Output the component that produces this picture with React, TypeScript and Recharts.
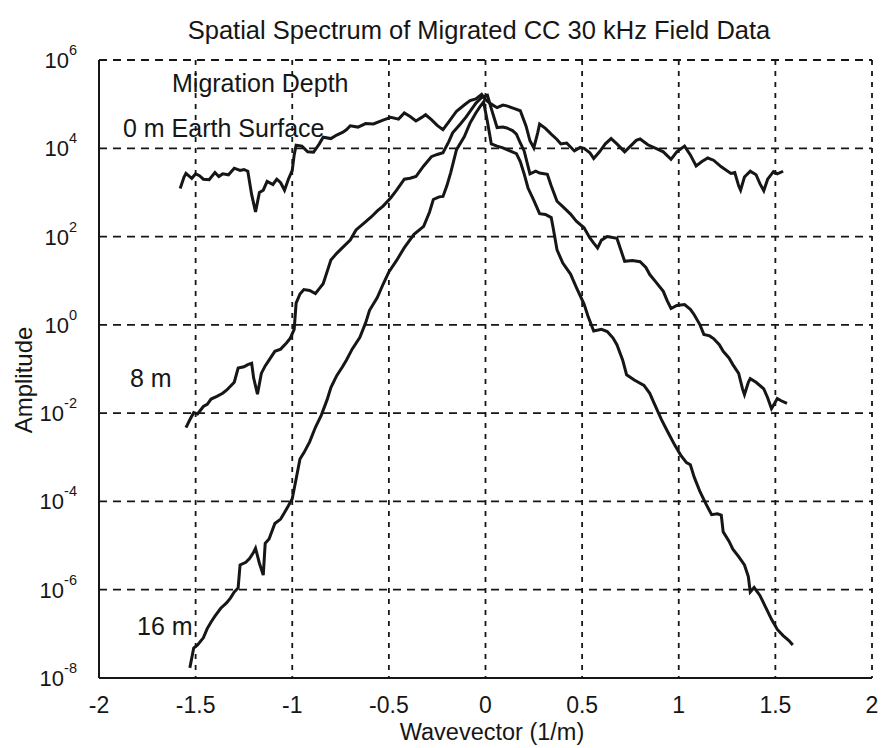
import type {ReactElement} from 'react';
import {LineChart, Line, XAxis, YAxis, CartesianGrid} from 'recharts';

// wavevector (1/m) and log10(amplitude)
const k0m = [
  -1.58, -1.56, -1.55, -1.52, -1.5, -1.48, -1.46, -1.43, -1.4, -1.38, -1.36,
  -1.33, -1.3, -1.27, -1.25, -1.23, -1.21, -1.19, -1.17, -1.15, -1.13, -1.1,
  -1.08, -1.06, -1.04, -1.02, -1.0, -0.99, -0.98, -0.95, -0.92, -0.89, -0.86,
  -0.84, -0.8, -0.77, -0.74, -0.72, -0.7, -0.66, -0.62, -0.58, -0.53, -0.49,
  -0.45, -0.42, -0.39, -0.36, -0.33, -0.31, -0.28, -0.25, -0.22, -0.19, -0.15,
  -0.11, -0.08, -0.05, -0.02, 0.0, 0.03, 0.06, 0.09, 0.11, 0.15, 0.18, 0.21,
  0.23, 0.25, 0.27, 0.28, 0.31, 0.34, 0.37, 0.39, 0.42, 0.46, 0.49, 0.51, 0.54,
  0.56, 0.59, 0.62, 0.65, 0.68, 0.72, 0.75, 0.78, 0.8, 0.84, 0.89, 0.92, 0.96,
  0.99, 1.03, 1.06, 1.09, 1.12, 1.15, 1.18, 1.22, 1.27, 1.29, 1.31, 1.32, 1.34,
  1.37, 1.4, 1.42, 1.44, 1.46, 1.49, 1.51, 1.54,
];
const exp0m = [
  3.09, 3.35, 3.43, 3.32, 3.42, 3.38, 3.3, 3.29, 3.45, 3.36, 3.42, 3.4, 3.55,
  3.5, 3.52, 3.48, 2.95, 2.56, 3.0, 3.05, 3.25, 3.18, 3.3, 3.22, 3.05, 3.3, 3.5,
  3.85, 4.07, 4.05, 3.92, 3.91, 4.1, 4.25, 4.22, 4.3, 4.36, 4.42, 4.51, 4.48,
  4.56, 4.55, 4.64, 4.7, 4.66, 4.8, 4.72, 4.62, 4.7, 4.76, 4.65, 4.52, 4.42,
  4.6, 4.84, 4.98, 5.08, 5.12, 5.22, 5.1, 5.0, 4.92, 4.98, 4.96, 4.9, 4.85, 4.5,
  4.17, 4.01, 4.35, 4.55, 4.45, 4.32, 4.2, 4.1, 4.12, 3.94, 4.02, 4.0, 3.9,
  3.77, 3.92, 4.1, 4.22, 4.1, 3.92, 4.05, 4.18, 4.21, 4.08, 3.98, 3.92, 3.75,
  3.92, 4.05, 3.85, 3.6, 3.7, 3.78, 3.73, 3.58, 3.43, 3.45, 3.15, 3.05, 3.35,
  3.48, 3.4, 3.2, 3.04, 3.3, 3.47, 3.42, 3.48,
];

const k8m = [
  -1.55, -1.53, -1.51, -1.49, -1.46, -1.44, -1.42, -1.39, -1.36, -1.34, -1.32,
  -1.3, -1.28, -1.25, -1.23, -1.21, -1.2, -1.18, -1.16, -1.14, -1.12, -1.09,
  -1.06, -1.03, -1.01, -0.99, -0.98, -0.96, -0.94, -0.91, -0.88, -0.86, -0.84,
  -0.82, -0.8, -0.77, -0.74, -0.7, -0.67, -0.63, -0.59, -0.56, -0.53, -0.49,
  -0.46, -0.42, -0.39, -0.36, -0.32, -0.28, -0.25, -0.22, -0.19, -0.17, -0.13,
  -0.1, -0.07, -0.05, -0.02, 0.01, 0.03, 0.06, 0.09, 0.11, 0.14, 0.16, 0.18,
  0.2, 0.23, 0.26, 0.28, 0.32, 0.34, 0.37, 0.4, 0.44, 0.47, 0.51, 0.54, 0.56,
  0.58, 0.6, 0.63, 0.68, 0.7, 0.72, 0.76, 0.8, 0.83, 0.85, 0.88, 0.92, 0.94,
  0.96, 0.99, 1.03, 1.06, 1.08, 1.11, 1.13, 1.16, 1.18, 1.21, 1.23, 1.26, 1.28,
  1.31, 1.33, 1.34, 1.36, 1.37, 1.4, 1.44, 1.46, 1.48, 1.51, 1.53, 1.56,
];
const exp8m = [
  -2.33, -2.15, -1.99, -2.02, -1.85, -1.8, -1.68, -1.62, -1.55, -1.48, -1.39,
  -1.3, -0.98, -0.95, -0.9, -0.87, -1.2, -1.57, -1.1, -0.93, -0.8, -0.6, -0.55,
  -0.41, -0.3, -0.1, 0.49, 0.7, 0.8, 0.78, 0.71, 0.82, 0.93, 1.2, 1.47, 1.62,
  1.75, 1.92, 2.15, 2.3, 2.45, 2.58, 2.69, 2.88, 3.05, 3.3, 3.32, 3.36, 3.6,
  3.81, 3.86, 3.9, 4.15, 4.35, 4.55, 4.71, 4.9, 5.02, 5.15, 5.2, 4.9, 4.47,
  4.48, 4.46, 4.4, 4.32, 4.12, 3.94, 3.42, 3.48, 3.44, 3.41, 3.15, 2.8, 2.68,
  2.51, 2.35, 2.2, 1.97, 1.85, 1.74, 1.92, 2.0, 1.96, 1.7, 1.44, 1.46, 1.43,
  1.3, 1.14, 0.98, 0.76, 0.55, 0.37, 0.44, 0.46, 0.35, 0.23, 0.0, -0.22, -0.25,
  -0.31, -0.45, -0.6, -0.75, -0.9, -1.1, -1.45, -1.58, -1.3, -1.22, -1.3, -1.45,
  -1.65, -1.9, -1.67, -1.72, -1.78,
];

const k16m = [
  -1.53, -1.51, -1.49, -1.46, -1.44, -1.42, -1.4, -1.37, -1.34, -1.32, -1.3,
  -1.28, -1.27, -1.24, -1.22, -1.2, -1.19, -1.17, -1.15, -1.14, -1.12, -1.09,
  -1.06, -1.04, -1.02, -1.0, -0.98, -0.96, -0.94, -0.91, -0.88, -0.85, -0.82,
  -0.8, -0.77, -0.74, -0.72, -0.69, -0.65, -0.62, -0.6, -0.56, -0.53, -0.5,
  -0.46, -0.42, -0.37, -0.32, -0.29, -0.27, -0.24, -0.22, -0.2, -0.18, -0.15,
  -0.11, -0.08, -0.05, -0.03, -0.01, 0.01, 0.03, 0.06, 0.09, 0.12, 0.16, 0.18,
  0.2, 0.22, 0.25, 0.28, 0.31, 0.34, 0.35, 0.37, 0.4, 0.44, 0.47, 0.51, 0.53,
  0.56, 0.6, 0.63, 0.66, 0.68, 0.71, 0.73, 0.77, 0.82, 0.85, 0.87, 0.91, 0.94,
  0.98, 1.01, 1.04, 1.06, 1.08, 1.11, 1.14, 1.17, 1.2, 1.22, 1.23, 1.26, 1.28,
  1.31, 1.34, 1.36, 1.37, 1.39, 1.42, 1.45, 1.48, 1.51, 1.54, 1.57, 1.59,
];
const exp16m = [
  -7.77, -7.32, -7.25, -7.09, -6.88, -6.73, -6.6, -6.42, -6.3, -6.19, -6.05,
  -5.96, -5.44, -5.38, -5.29, -5.15, -5.06, -5.4, -5.67, -4.95, -4.85, -4.5,
  -4.4, -4.25, -4.1, -3.94, -3.49, -3.04, -2.9, -2.65, -2.32, -2.05, -1.7,
  -1.42, -1.15, -0.95, -0.8, -0.55, -0.28, 0.05, 0.33, 0.62, 0.92, 1.2, 1.46,
  1.75, 2.05, 2.23, 2.55, 2.84, 2.9, 2.91, 3.15, 3.45, 3.97, 4.26, 4.57, 4.8,
  4.93, 5.05, 4.6, 4.1, 4.05, 4.01, 3.95, 3.88, 3.7, 3.42, 3.1, 2.82, 2.52, 2.5,
  2.43, 2.2, 1.7, 1.4, 1.15, 0.85, 0.47, 0.2, -0.14, -0.1, -0.15, -0.3, -0.45,
  -0.8, -1.13, -1.25, -1.37, -1.55, -1.75, -2.14, -2.4, -2.73, -2.95, -3.12,
  -3.17, -3.45, -3.78, -4.05, -4.3, -4.28, -4.31, -4.69, -4.9, -5.08, -5.25,
  -5.44, -5.7, -6.05, -5.95, -6.13, -6.4, -6.67, -6.9, -7.04, -7.15, -7.25,
];

const xTicks = [-2, -1.5, -1, -0.5, 0, 0.5, 1, 1.5, 2];
// labelled decades (with grid) and the odd decades (small tick marks only)
const yExponents = [-8, -6, -4, -2, 0, 2, 4, 6];
const yMinorExponents = [-7, -5, -3, -1, 1, 3, 5];
const yTicks = yExponents.map((e) => 10 ** e);
const yMinorTicks = yMinorExponents.map((e) => 10 ** e);

const toRows = (ks: number[], exps: number[]) =>
  ks.map((k, i) => ({k, amp: 10 ** exps[i]}));

const FONT = '"Liberation Sans", Arial, sans-serif';
const INK = '#161616';

const W = 888;
const H = 748;

function YTick(props: any): ReactElement {
  const {x, y, payload} = props;
  const e = Math.round(Math.log10(payload.value));
  return (
    <text x={x - 20} y={y + 8} textAnchor="end" fontFamily={FONT} fill={INK}>
      <tspan fontSize={22}>10</tspan>
      <tspan fontSize={14.5} dy={-13}>
        {e}
      </tspan>
    </text>
  );
}

// unlabelled odd-decade ticks, pointing into the plot
function LeftMinorTick(props: any): ReactElement {
  const {x, y} = props;
  return (
    <line x1={x} x2={x + 7} y1={y} y2={y} stroke={INK} strokeWidth={1.6} />
  );
}

function RightMinorTick(props: any): ReactElement {
  const {x, y} = props;
  return (
    <line x1={x - 7} x2={x} y1={y} y2={y} stroke={INK} strokeWidth={1.6} />
  );
}

function XTick(props: any): ReactElement {
  const {x, y, payload} = props;
  return (
    <text
      x={x}
      y={y + 33}
      textAnchor="middle"
      fontFamily={FONT}
      fontSize={23}
      fill={INK}
    >
      {payload.value}
    </text>
  );
}

export default function App(): ReactElement {
  return (
    <div
      style={{
        position: 'absolute',
        left: 0,
        top: 0,
        width: W,
        height: H,
        background: '#fff',
      }}
    >
      <LineChart
        width={W}
        height={H}
        margin={{top: 60, right: 16, bottom: 30, left: 39}}
      >
        <CartesianGrid
          horizontal={false}
          stroke={INK}
          strokeWidth={1.8}
          strokeDasharray="5 6"
        />
        <CartesianGrid
          vertical={false}
          stroke={INK}
          strokeWidth={1.8}
          strokeDasharray="8 6"
        />
        <XAxis
          dataKey="k"
          type="number"
          domain={[-2, 2]}
          ticks={xTicks}
          allowDataOverflow
          height={40}
          tickSize={0}
          tickLine={false}
          tick={<XTick />}
          axisLine={{stroke: INK, strokeWidth: 2}}
        />
        <XAxis
          xAxisId="top"
          orientation="top"
          dataKey="k"
          type="number"
          domain={[-2, 2]}
          height={0}
          tick={false}
          tickLine={false}
          axisLine={{stroke: INK, strokeWidth: 2}}
        />
        <YAxis
          type="number"
          scale="log"
          domain={[1e-8, 1e6]}
          ticks={yTicks}
          allowDataOverflow
          width={60}
          tickSize={0}
          tickLine={false}
          tick={<YTick />}
          axisLine={{stroke: INK, strokeWidth: 2}}
        />
        <YAxis
          yAxisId="leftMinor"
          orientation="left"
          mirror
          type="number"
          scale="log"
          domain={[1e-8, 1e6]}
          ticks={yMinorTicks}
          allowDataOverflow
          width={0}
          tickSize={0}
          tickMargin={0}
          tickLine={false}
          tick={<LeftMinorTick />}
          axisLine={false}
        />
        <YAxis
          yAxisId="right"
          orientation="right"
          mirror
          type="number"
          scale="log"
          domain={[1e-8, 1e6]}
          ticks={yMinorTicks}
          allowDataOverflow
          width={0}
          tickSize={0}
          tickMargin={0}
          tickLine={false}
          tick={<RightMinorTick />}
          axisLine={{stroke: INK, strokeWidth: 2}}
        />
        <Line
          data={toRows(k0m, exp0m)}
          dataKey="amp"
          type="linear"
          stroke={INK}
          strokeWidth={3}
          dot={false}
          isAnimationActive={false}
        />
        <Line
          data={toRows(k8m, exp8m)}
          dataKey="amp"
          type="linear"
          stroke={INK}
          strokeWidth={3}
          dot={false}
          isAnimationActive={false}
        />
        <Line
          data={toRows(k16m, exp16m)}
          dataKey="amp"
          type="linear"
          stroke={INK}
          strokeWidth={3}
          dot={false}
          isAnimationActive={false}
        />
      </LineChart>
      <svg
        width={W}
        height={H}
        style={{position: 'absolute', left: 0, top: 0, pointerEvents: 'none'}}
        fontFamily={FONT}
        fill={INK}
      >
        <text x={479} y={39} fontSize={25.5} textAnchor="middle">
          Spatial Spectrum of Migrated CC 30 kHz Field Data
        </text>
        <text x={172} y={92} fontSize={25}>
          Migration Depth
        </text>
        <text x={123} y={137} fontSize={25}>
          0 m Earth Surface
        </text>
        <text x={130} y={387} fontSize={25}>
          8 m
        </text>
        <text x={137} y={635} fontSize={25}>
          16 m
        </text>
        <text x={492} y={740} fontSize={23.5} textAnchor="middle">
          Wavevector (1/m)
        </text>
        <text
          x={0}
          y={0}
          fontSize={24}
          textAnchor="middle"
          transform="translate(32 380) rotate(-90)"
        >
          Amplitude
        </text>
      </svg>
    </div>
  );
}
